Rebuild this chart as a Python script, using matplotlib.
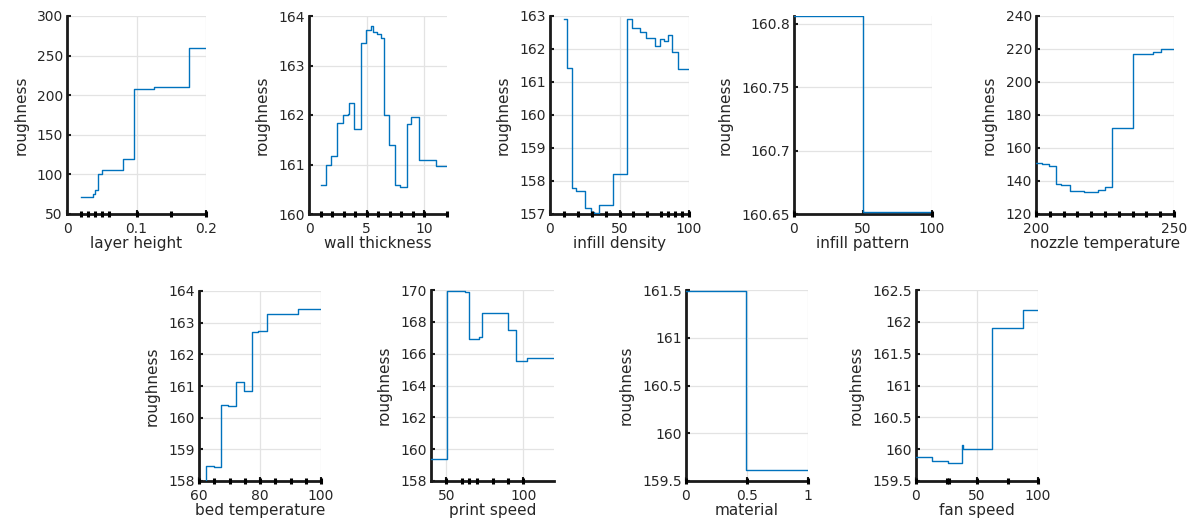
import matplotlib
matplotlib.use("Agg")
import matplotlib.pyplot as plt
from matplotlib.ticker import FuncFormatter

plt.rcParams['font.family'] = ['DejaVu Sans']

# partial dependence curves (step values)
lh_x = [0.02, 0.038, 0.041, 0.045, 0.05, 0.08, 0.096, 0.125, 0.175, 0.2]
lh_y = [72, 75, 80, 100, 105, 120, 208, 210, 260, 260]
lh_rug = [0.02, 0.03, 0.04, 0.05, 0.06, 0.1, 0.15, 0.2]

wt_x = [1.0, 1.5, 1.95, 2.45, 2.95, 3.35, 3.5, 3.9, 4.5, 4.93, 5.35, 5.55, 5.95,
        6.3, 6.55, 6.95, 7.5, 7.95, 8.5, 8.9, 9.55, 11.0, 12]
wt_y = [160.58, 161.0, 161.17, 161.83, 162.0, 162.03, 162.25, 161.72, 163.46, 163.71,
        163.79, 163.68, 163.64, 163.56, 162.0, 161.4, 160.59, 160.54, 161.82, 161.95,
        161.1, 160.97, 160.97]
wt_rug = [1, 2, 3, 4, 5, 6, 7, 8, 9, 10, 12]

id_x = [10, 12, 15.5, 19, 25.4, 29.4, 31.6, 35, 45.5, 55.5, 59.3, 65, 69.4, 75.8,
        79.4, 81.8, 85, 87.6, 92, 100]
id_y = [162.9, 161.43, 157.78, 157.71, 157.18, 157.06, 157.03, 157.28, 158.22, 162.92,
        162.65, 162.5, 162.32, 162.09, 162.3, 162.24, 162.42, 161.9, 161.38, 161.38]
id_rug = [10, 20, 30, 40, 50, 60, 70, 80, 85, 90, 95, 100]

ip_x = [0, 50, 100]
ip_y = [160.806, 160.6516, 160.6516]
ip_rug = [0, 100]

nt_x = [200, 202.3, 204.7, 207.2, 209, 212.3, 214.7, 217.3, 222.4, 225, 227.6, 235.2,
        242.5, 245.2, 250]
nt_y = [150.8, 150.0, 149.2, 138.0, 137.5, 134.1, 133.7, 133.1, 134.5, 136.5, 172.0,
        216.8, 218.4, 219.8, 220.3]
nt_rug = [200, 205, 210, 215, 220, 225, 230, 235, 240, 245, 250]

bt_x = [60, 62.4, 64.8, 67.3, 69.4, 72, 74.9, 77.4, 79.5, 82.2, 92.6, 100]
bt_y = [157.95, 158.48, 158.43, 160.39, 160.37, 161.14, 160.83, 162.7, 162.74,
        163.26, 163.43, 163.43]
bt_rug = [60, 65, 70, 75, 80, 85, 90, 95, 100]

ps_x = [40, 50.4, 62.4, 64.8, 71, 73, 89.8, 95.4, 102.6, 120]
ps_y = [159.36, 169.96, 169.86, 166.93, 167.04, 168.54, 167.46, 165.56, 165.75, 165.75]
ps_rug = [50, 60, 65, 70, 80, 90, 100]

mt_x = [0, 0.49, 1]
mt_y = [161.49, 159.61, 159.61]
mt_rug = [0, 0.5, 1]

fs_x = [0, 13, 26.6, 38, 38.9, 62.5, 87.8, 100]
fs_y = [159.876, 159.82, 159.78, 160.07, 160.0, 161.9, 162.19, 162.19]
fs_rug = [0, 25, 27, 50, 75, 100]

W, H = 1195, 525
fig = plt.figure(figsize=(W / 100, H / 100), dpi=100)

# (label, x, y, rug, xlim, xticks, ylim, yticks, box in px: left, top, right, bottom)
panels = [
    ('layer height', lh_x, lh_y, lh_rug, (0, 0.2), [0, 0.1, 0.2], (50, 300),
     [50, 100, 150, 200, 250, 300], (67, 16, 206, 214)),
    ('wall thickness', wt_x, wt_y, wt_rug, (0, 12), [0, 5, 10], (160, 164),
     [160, 161, 162, 163, 164], (309, 16, 447, 214)),
    ('infill density', id_x, id_y, id_rug, (0, 100), [0, 50, 100], (157, 163),
     [157, 158, 159, 160, 161, 162, 163], (550, 16, 689, 214)),
    ('infill pattern', ip_x, ip_y, ip_rug, (0, 100), [0, 50, 100], (160.65, 160.806),
     [160.65, 160.7, 160.75, 160.8], (794, 16, 932, 214)),
    ('nozzle temperature', nt_x, nt_y, nt_rug, (200, 250), [200, 250], (120, 240),
     [120, 140, 160, 180, 200, 220, 240], (1036, 16, 1174, 214)),
    ('bed temperature', bt_x, bt_y, bt_rug, (60, 100), [60, 80, 100], (158, 164),
     [158, 159, 160, 161, 162, 163, 164], (199, 291, 321, 481)),
    ('print speed', ps_x, ps_y, ps_rug, (40, 120), [50, 100], (158, 170),
     [158, 160, 162, 164, 166, 168, 170], (431, 290, 554, 481)),
    ('material', mt_x, mt_y, mt_rug, (0, 1), [0, 0.5, 1], (159.5, 161.5),
     [159.5, 160, 160.5, 161, 161.5], (686, 290, 808, 481)),
    ('fan speed', fs_x, fs_y, fs_rug, (0, 100), [0, 50, 100], (159.5, 162.5),
     [159.5, 160, 160.5, 161, 161.5, 162, 162.5], (916, 290, 1038, 481)),
]

fmt = FuncFormatter(lambda v, p: '{:g}'.format(round(v, 4)))

for label, x, y, rug, xlim, xticks, ylim, yticks, box in panels:
    l, t, r, b = box
    ax = fig.add_axes([l / W, 1 - b / H, (r - l) / W, (b - t) / H])
    ax.step(x, y, where='post', color='#0072BD', lw=1.0, zorder=3)
    ax.plot(rug, [ylim[0]] * len(rug), ls='none', marker='|', ms=5, mew=2.2,
            color='black', clip_on=False, zorder=4)
    ax.set_xlim(*xlim)
    ax.set_ylim(*ylim)
    ax.set_xticks(xticks)
    ax.set_yticks(yticks)
    ax.xaxis.set_major_formatter(fmt)
    ax.yaxis.set_major_formatter(fmt)
    ax.grid(True, color='#e3e3e3', lw=0.9)
    ax.set_axisbelow(True)
    for s in ['top', 'right']:
        ax.spines[s].set_visible(False)
    for s in ['left', 'bottom']:
        ax.spines[s].set_linewidth(2.0)
        ax.spines[s].set_color('#1a1a1a')
    ax.tick_params(direction='in', length=3, width=1.5, colors='#1a1a1a',
                   labelcolor='#262626', labelsize=10)
    ax.tick_params(axis='x', pad=6)
    ax.tick_params(axis='y', pad=3)
    ax.set_xlabel(label, fontsize=11, color='#262626', labelpad=0)
    ax.set_ylabel('roughness', fontsize=11, color='#262626', labelpad=6)

fig.savefig('out.png', dpi=100)
